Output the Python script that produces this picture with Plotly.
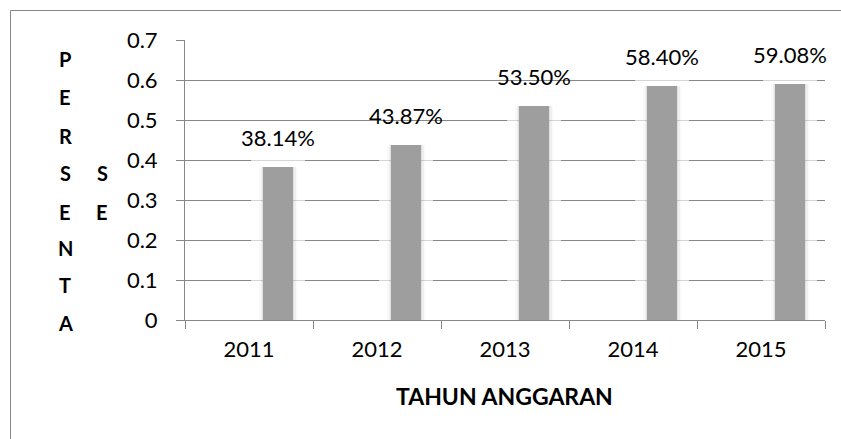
import plotly.graph_objects as go

years = ["2011", "2012", "2013", "2014", "2015"]
values = [0.3814, 0.4387, 0.5350, 0.5840, 0.5908]
y_ticks = [0, 0.1, 0.2, 0.3, 0.4, 0.5, 0.6, 0.7]
y_title_col1 = ["P", "E", "R", "S", "E", "N", "T", "A"]
y_title_col2 = ["S", "E"]
x_title = "TAHUN ANGGARAN"

W, H = 841, 439
ML, MR, MT, MB = 185, 16, 40, 119
PW = W - ML - MR  # 640
PH = H - MT - MB  # 280
px = 1.0 / 128.0  # one pixel in category units
py_unit = 0.7 / PH  # one pixel in value units

bar_w = 30 * px
bar_off = 14 * px
GRID = "#878787"
FONT = "Lato"

fig = go.Figure()

# light glow around bars that softens the gridlines near them
fig.add_trace(go.Bar(
    x=years, y=[v + 8 * py_unit for v in values],
    width=bar_w + 2 * 12 * px, offset=bar_off - 12 * px,
    marker=dict(color="rgba(255,255,255,0.65)", line=dict(width=0)),
    hoverinfo="skip", showlegend=False,
))
# soft shadow close to bars
for extra, alpha in [(4, 0.025), (2.5, 0.04), (1.2, 0.06)]:
    fig.add_trace(go.Bar(
        x=years, y=values,
        width=bar_w + 2 * extra * px,
        offset=bar_off - extra * px,
        marker=dict(color=f"rgba(0,0,0,{alpha})", line=dict(width=0)),
        hoverinfo="skip", showlegend=False,
    ))

fig.add_trace(go.Bar(
    x=years, y=values,
    width=bar_w, offset=bar_off,
    marker=dict(color="#9e9e9e", line=dict(width=0)),
    showlegend=False,
))

# value labels above bars (x given as category index)
for i, v in enumerate(values):
    fig.add_annotation(
        x=i + bar_off + bar_w / 2, y=v, xref="x", yref="y",
        text=f"{v*100:.2f}%", showarrow=False,
        xanchor="center", yanchor="bottom",
        yshift=14,
        font=dict(family=FONT, size=22, color="#000000"),
    )

# vertical stacked y-axis title letters
def py(ypix):
    return (MT + PH - ypix) / PH

def pxp(xpix):
    return (xpix - ML) / PW

col1_y = [59, 97, 136, 173, 212, 248, 285, 323]
for ch, yy in zip(y_title_col1, col1_y):
    fig.add_annotation(x=pxp(65), y=py(yy), xref="paper", yref="paper",
                       text=ch, showarrow=False, xanchor="center", yanchor="middle",
                       font=dict(family=FONT, size=20, color="#000000", weight="bold"))
col2_y = [173, 212]
for ch, yy in zip(y_title_col2, col2_y):
    fig.add_annotation(x=pxp(102), y=py(yy), xref="paper", yref="paper",
                       text=ch, showarrow=False, xanchor="center", yanchor="middle",
                       font=dict(family=FONT, size=20, color="#000000", weight="bold"))

fig.add_annotation(x=pxp(504), y=py(396), xref="paper", yref="paper",
                   text=x_title, showarrow=False, xanchor="center", yanchor="middle",
                   font=dict(family=FONT, size=23, color="#000000", weight="bold"))

# outer chart border (extends beyond visible area on right/bottom)
fig.add_shape(type="rect", xref="paper", yref="paper",
              x0=pxp(10.5), x1=pxp(W + 20), y0=py(H + 20), y1=py(10.5),
              line=dict(color=GRID, width=1), fillcolor="rgba(0,0,0,0)", layer="below")

fig.update_layout(
    width=W, height=H,
    margin=dict(l=ML, r=MR, t=MT, b=MB, autoexpand=False),
    paper_bgcolor="white", plot_bgcolor="white",
    barmode="overlay", bargap=0,
    font=dict(family=FONT, size=22, color="#000000"),
    xaxis=dict(
        type="category", categoryorder="array", categoryarray=years,
        range=[-0.5, len(years) - 0.5], autorange=False,
        showline=True, linecolor=GRID, linewidth=1,
        ticks="outside", tickson="boundaries", ticklen=8, tickcolor=GRID, tickwidth=1,
        showgrid=False, ticklabelstandoff=10,
        tickfont=dict(family=FONT, size=22, color="#000000"),
    ),
    yaxis=dict(
        range=[0, 0.7], tickvals=y_ticks, ticktext=[f"{t:g}" for t in y_ticks],
        showline=True, linecolor=GRID, linewidth=1,
        ticks="outside", ticklen=8, tickcolor=GRID, tickwidth=1,
        showgrid=True, gridcolor=GRID, gridwidth=1, zeroline=False,
        ticklabelstandoff=14,
        tickfont=dict(family=FONT, size=22, color="#000000"),
    ),
)

fig.write_html("out.html")
